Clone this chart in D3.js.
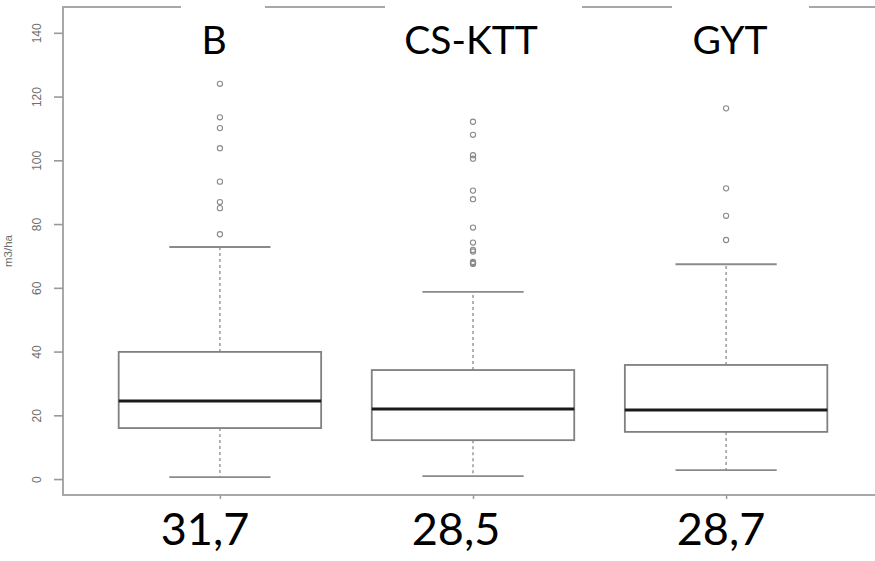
<!DOCTYPE html>
<html>
<head>
<meta charset="utf-8">
<script src="https://cdn.jsdelivr.net/npm/d3@7"></script>
<style>
  html, body { margin: 0; padding: 0; background: #fff; }
  svg { display: block; }
</style>
</head>
<body>
<svg id="chart" width="875" height="561"></svg>
<script>
// ---- data ----
const categories = ["B", "CS-KTT", "GYT"];
const q1Values = [16.0, 12.2, 14.8];
const medianValues = [24.5, 22.0, 21.7];
const q3Values = [39.9, 34.2, 35.8];
const whiskerLow = [0.6, 0.9, 2.8];
const whiskerHigh = [72.8, 58.7, 67.4];
const outliersB = [76.8, 85.0, 86.9, 93.3, 103.8, 110.1, 113.5, 124.0];
const outliersCS = [67.5, 67.8, 68.1, 71.4, 71.9, 74.2, 78.9, 87.8, 90.5, 100.5, 101.6, 108.0, 112.1];
const outliersGYT = [75.0, 82.6, 91.2, 116.3];
const meanLabels = ["31,7", "28,5", "28,7"];
const yTicks = [0, 20, 40, 60, 80, 100, 120, 140];
const yAxisTitle = "m3/ha";

// ---- layout ----
const plotLeft = 63, plotTop = 7, plotBottom = 495, plotRight = 883;
const svg = d3.select("#chart");

const x = d3.scaleLinear().domain([0.38, 3.62]).range([plotLeft, plotRight]);
const y = d3.scaleLinear().domain([-5.0, 148.1]).range([plotBottom, plotTop]);
const boxHalf = 0.4, capHalf = 0.2;

const outliers = [outliersB, outliersCS, outliersGYT];
const groups = categories.map((c, i) => ({
  name: c, pos: i + 1, q1: q1Values[i], med: medianValues[i], q3: q3Values[i],
  lo: whiskerLow[i], hi: whiskerHigh[i], out: outliers[i], mean: meanLabels[i]
}));

const gray = "#8a8a8a";

// frame
svg.append("rect")
  .attr("x", plotLeft).attr("y", plotTop)
  .attr("width", plotRight - plotLeft).attr("height", plotBottom - plotTop)
  .attr("fill", "none").attr("stroke", "#a8a8a8").attr("stroke-width", 2);

// y axis
const yAxis = svg.append("g")
  .attr("transform", `translate(${plotLeft},0)`)
  .call(d3.axisLeft(y).tickValues(yTicks).tickSize(9).tickFormat(d3.format("d")));
yAxis.select(".domain").remove();
yAxis.selectAll(".tick line").attr("stroke", "#999").attr("stroke-width", 1.6);
yAxis.selectAll(".tick text")
  .attr("fill", "#6f6f6f")
  .attr("font-family", "Liberation Sans, Arial, sans-serif")
  .attr("font-size", 12)
  .attr("text-anchor", "middle")
  .attr("transform", "rotate(-90)")
  .attr("x", 0).attr("y", -26)
  .attr("dy", "0.35em");

// y title
svg.append("text")
  .attr("transform", `translate(8,${(plotTop + plotBottom) / 2}) rotate(-90)`)
  .attr("text-anchor", "middle").attr("dy", "0.35em")
  .attr("font-family", "Liberation Sans, Arial, sans-serif")
  .attr("font-size", 11.5).attr("fill", "#6f6f6f")
  .text(yAxisTitle);

// x axis ticks (bottom)
const xAxis = svg.append("g")
  .attr("transform", `translate(0,${plotBottom})`)
  .call(d3.axisBottom(x).tickValues(groups.map(g => g.pos)).tickSize(4).tickFormat(""));
xAxis.select(".domain").remove();
xAxis.selectAll(".tick line").attr("stroke", "#999").attr("stroke-width", 1.5);

// boxes
const g = svg.selectAll(".grp").data(groups).enter().append("g").attr("class", "grp");

g.append("line") // upper whisker
  .attr("x1", d => x(d.pos)).attr("x2", d => x(d.pos))
  .attr("y1", d => y(d.q3)).attr("y2", d => y(d.hi))
  .attr("stroke", gray).attr("stroke-width", 1.3).attr("stroke-dasharray", "3,3");
g.append("line") // lower whisker
  .attr("x1", d => x(d.pos)).attr("x2", d => x(d.pos))
  .attr("y1", d => y(d.q1)).attr("y2", d => y(d.lo))
  .attr("stroke", gray).attr("stroke-width", 1.3).attr("stroke-dasharray", "3,3");
g.append("line") // upper cap
  .attr("x1", d => x(d.pos - capHalf)).attr("x2", d => x(d.pos + capHalf))
  .attr("y1", d => y(d.hi)).attr("y2", d => y(d.hi))
  .attr("stroke", gray).attr("stroke-width", 1.8);
g.append("line") // lower cap
  .attr("x1", d => x(d.pos - capHalf)).attr("x2", d => x(d.pos + capHalf))
  .attr("y1", d => y(d.lo)).attr("y2", d => y(d.lo))
  .attr("stroke", gray).attr("stroke-width", 1.8);
g.append("rect")
  .attr("x", d => x(d.pos - boxHalf)).attr("width", d => x(d.pos + boxHalf) - x(d.pos - boxHalf))
  .attr("y", d => y(d.q3)).attr("height", d => y(d.q1) - y(d.q3))
  .attr("fill", "none").attr("stroke", "#808080").attr("stroke-width", 1.8);
g.append("line") // median
  .attr("x1", d => x(d.pos - boxHalf)).attr("x2", d => x(d.pos + boxHalf))
  .attr("y1", d => y(d.med)).attr("y2", d => y(d.med))
  .attr("stroke", "#1a1a1a").attr("stroke-width", 3);
g.selectAll("circle").data(d => d.out.map(v => ({pos: d.pos, v}))).enter().append("circle")
  .attr("cx", d => x(d.pos)).attr("cy", d => y(d.v)).attr("r", 2.6)
  .attr("fill", "none").attr("stroke", "#8a8a8a").attr("stroke-width", 1.1);

// top category labels on white boxes (cover the frame line)
const labelBoxes = [[181, 265, 214], [385, 582, 471], [672, 809, 730]];
groups.forEach((d, i) => {
  const [bx0, bx1, cx] = labelBoxes[i];
  svg.append("rect").attr("x", bx0).attr("y", 0).attr("width", bx1 - bx0).attr("height", 60).attr("fill", "#fff");
  svg.append("text").attr("x", cx).attr("y", 54).attr("text-anchor", "middle")
    .attr("font-family", "Lato, 'Open Sans', sans-serif").attr("font-size", 39).attr("fill", "#000")
    .text(d.name);
});

// bottom mean labels
const meanCenters = [205, 456, 721];
groups.forEach((d, i) => {
  svg.append("text").attr("x", meanCenters[i]).attr("y", 545).attr("text-anchor", "middle")
    .attr("font-family", "Lato, 'Open Sans', sans-serif").attr("font-size", 45).attr("fill", "#000")
    .text(d.mean);
});
</script>
</body>
</html>
